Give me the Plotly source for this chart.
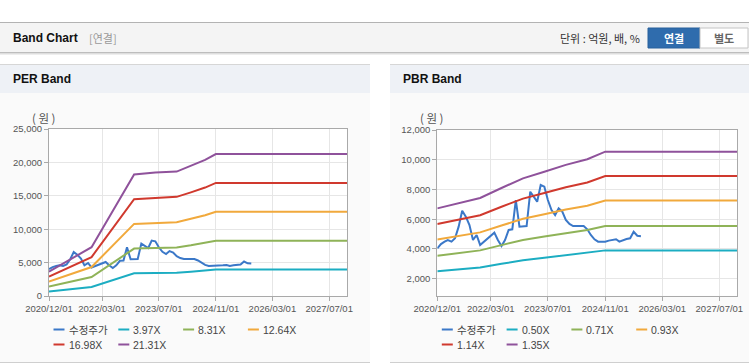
import plotly.graph_objects as go
import pandas as pd

W, H = 749, 364

# ---------------- data ----------------
price_start = "2020-12-01"
price = [4040, 4330, 4490, 4600, 4490, 4717, 5500, 6573, 6170, 5610, 4600, 4940,
         4270, 4490, 4717, 4940, 5094, 4600, 4200, 4600, 5275, 5320, 7290, 5500,
         5500, 5540, 7850, 7515, 7180, 8300, 8190, 7290, 6620, 6280, 6730, 6510,
         5950, 5680, 5540, 5540, 5544, 5540, 5320, 4940, 4650, 4490, 4490, 4490,
         4560, 4600, 4650, 4490, 4600, 4670, 4717, 5160, 4890, 4860]
price_dates = pd.date_range(price_start, periods=len(price), freq="MS")

per_band_dates = ["2020-12-01", "2021-12-01", "2022-12-01", "2023-06-01", "2023-12-01",
                  "2024-04-01", "2024-08-01", "2024-11-01", "2027-12-01"]
per_397 = [679, 1362, 3390, 3442, 3470, 3629, 3795, 3958, 3958]
per_831 = [1421, 2850, 7097, 7205, 7263, 7595, 7944, 8285, 8285]
per_1264 = [2161, 4336, 10795, 10959, 11047, 11553, 12084, 12602, 12602]
per_1698 = [2904, 5824, 14501, 14722, 14841, 15520, 16233, 16929, 16929]
per_2131 = [3644, 7309, 18199, 18476, 18625, 19477, 20372, 21246, 21246]

pbr_band_dates = ["2020-12-01", "2021-06-01", "2021-12-01", "2022-06-01", "2022-12-01",
                  "2023-06-01", "2023-12-01", "2024-06-01", "2024-11-01", "2027-12-01"]
pbr_050 = [2493, 2625, 2750, 3000, 3240, 3405, 3575, 3715, 3905, 3905]
pbr_071 = [3539, 3728, 3905, 4260, 4601, 4835, 5077, 5275, 5545, 5545]
pbr_093 = [4636, 4883, 5115, 5580, 6026, 6333, 6650, 6910, 7263, 7263]
pbr_114 = [5683, 5985, 6270, 6840, 7387, 7763, 8151, 8470, 8903, 8903]
pbr_135 = [6730, 7088, 7425, 8100, 8748, 9194, 9653, 10031, 10544, 10544]

price_name = "수정주가"
per_names = ["3.97X", "8.31X", "12.64X", "16.98X", "21.31X"]
pbr_names = ["0.50X", "0.71X", "0.93X", "1.14X", "1.35X"]

x_tickvals = ["2020-12-01", "2022-03-01", "2023-07-01", "2024-11-01", "2026-03-01", "2027-07-01"]
x_ticktext = ["2020/12/01", "2022/03/01", "2023/07/01", "2024/11/01", "2026/03/01", "2027/07/01"]
x_range = ["2020-12-01", "2027-12-01"]
per_yticks = [0, 5000, 10000, 15000, 20000, 25000]
pbr_yticks = [2000, 4000, 6000, 8000, 10000, 12000]
per_yrange = [0, 25000]
pbr_yrange = [857, 12000]

# ---------------- style ----------------
price_color = "#3b78c8"
band_colors = ["#1cadc2", "#8fb358", "#f1a93c", "#d0392e", "#8f529b"]
LATIN = "Liberation Sans, Arial, sans-serif"
KR = "Noto Sans CJK KR, sans-serif"


def X(p):
    return p / W


def Y(p):
    return 1 - p / H


fig = go.Figure()

# PER traces
fig.add_trace(go.Scatter(x=price_dates, y=price, mode="lines", name=price_name,
                         line=dict(color=price_color, width=2), xaxis="x", yaxis="y"))
for nm, vals, c in zip(per_names, [per_397, per_831, per_1264, per_1698, per_2131], band_colors):
    fig.add_trace(go.Scatter(x=per_band_dates, y=vals, mode="lines", name=nm,
                             line=dict(color=c, width=2), xaxis="x", yaxis="y"))
# PBR traces
fig.add_trace(go.Scatter(x=price_dates, y=price, mode="lines", name=price_name,
                         line=dict(color=price_color, width=2), xaxis="x2", yaxis="y2"))
for nm, vals, c in zip(pbr_names, [pbr_050, pbr_071, pbr_093, pbr_114, pbr_135], band_colors):
    fig.add_trace(go.Scatter(x=pbr_band_dates, y=vals, mode="lines", name=nm,
                             line=dict(color=c, width=2), xaxis="x2", yaxis="y2"))

per_l, per_r, per_t, per_b = 49, 347, 129, 296
pbr_l, pbr_r, pbr_t, pbr_b = 437.3, 737.3, 130, 295.7

axis_common = dict(showline=True, mirror=True, linecolor="#a9a9a9", linewidth=1,
                   showgrid=True, gridcolor="#e6e6e6", gridwidth=1, zeroline=False,
                   ticks="outside", ticklen=4, tickcolor="#a9a9a9", automargin=False,
                   tickfont=dict(family=LATIN, size=9.5, color="#555"))

fig.update_layout(
    template="none",
    width=W, height=H, margin=dict(l=0, r=0, t=0, b=0, pad=0), autosize=False,
    paper_bgcolor="white", plot_bgcolor="white", showlegend=False,
    xaxis=dict(domain=[X(per_l), X(per_r)], anchor="y", type="date", range=x_range,
               tickvals=x_tickvals, ticktext=x_ticktext, **axis_common),
    yaxis=dict(domain=[Y(per_b), Y(per_t)], anchor="x", range=per_yrange,
               tickvals=per_yticks, tickformat=",d", **axis_common),
    xaxis2=dict(domain=[X(pbr_l), X(pbr_r)], anchor="y2", type="date", range=x_range,
                tickvals=x_tickvals, ticktext=x_ticktext, **axis_common),
    yaxis2=dict(domain=[Y(pbr_b), Y(pbr_t)], anchor="x2", range=pbr_yrange,
                tickvals=pbr_yticks, tickformat=",d", **axis_common),
)

shapes = []
ann = []


def rect(x0, y0, x1, y1, fill, line=None, lw=0):
    shapes.append(dict(type="rect", xref="paper", yref="paper", x0=X(x0), x1=X(x1),
                       y0=Y(y1), y1=Y(y0), fillcolor=fill,
                       line=dict(color=line or fill, width=lw), layer="below"))


def hline(x0, x1, y, color, w=1):
    shapes.append(dict(type="line", xref="paper", yref="paper", x0=X(x0), x1=X(x1),
                       y0=Y(y), y1=Y(y), line=dict(color=color, width=w), layer="below"))


def text(x, y, s, size, color, family, xanchor="left"):
    ann.append(dict(xref="paper", yref="paper", x=X(x), y=Y(y), text=s, showarrow=False,
                    xanchor=xanchor, yanchor="middle",
                    font=dict(size=size, color=color, family=family)))


# top bar
rect(0, 22, W, 52, "#f4f4f4")
hline(0, W, 22.5, "#b3b3b3")
hline(0, W, 52.5, "#bdbdbd")
hline(0, W, 53.5, "#dedede")
hline(0, W, 54.5, "#eeeeee")
text(11, 38, "<b>Band Chart</b>", 12, "#111", LATIN)
text(87, 38, "[연결]", 11, "#999", KR)
text(642, 38, "단위 : 억원, 배, %", 11, "#333", KR, xanchor="right")
rect(648, 28, 700, 48, "#2f6cad", "#28609c", 1)
rect(700, 28, 748, 48, "#ffffff", "#c4c4c4", 1)
text(674, 38, "<b>연결</b>", 11, "white", KR, xanchor="center")
text(724, 38, "<b>별도</b>", 11, "#666", KR, xanchor="center")

# panels
for pl, pr, title in [(0, 370, "PER Band"), (390, W, "PBR Band")]:
    rect(pl, 93, pr, 363, "#fafafa")
    rect(pl, 65, pr, 93, "#eef1f6")
    hline(pl, pr, 64.5, "#d6d6d6")
    hline(pl, pr, 362.5, "#cfcfcf")
    text(pl + 11, 79, "<b>" + title + "</b>", 12, "#111", LATIN)

# white plot areas
for xr, yr in [("x domain", "y domain"), ("x2 domain", "y2 domain")]:
    shapes.append(dict(type="rect", xref=xr, yref=yr, x0=0, x1=1, y0=0, y1=1,
                       fillcolor="white", line=dict(width=0), layer="below"))

# unit labels
text(per_l - 5, 118, "( 원 )", 11.5, "#555", KR, xanchor="center")
text(pbr_l - 5, 118, "( 원 )", 11.5, "#555", KR, xanchor="center")

# custom legends
step = 64.8
for left, names in [(per_l, per_names), (pbr_l, pbr_names)]:
    items = [(price_name, price_color)] + list(zip(names, band_colors))
    for i, (nm, c) in enumerate(items):
        row, col = divmod(i, 4)
        lx = left + 4.5 + col * step
        ly = 329.5 + row * 15
        shapes.append(dict(type="line", xref="paper", yref="paper", x0=X(lx), x1=X(lx + 11),
                           y0=Y(ly), y1=Y(ly), line=dict(color=c, width=2)))
        text(lx + 13, ly, nm, 10.5, "#444", KR if nm == price_name else LATIN)

fig.update_layout(shapes=shapes, annotations=ann)
fig.write_html("out.html", config={"displayModeBar": False},
               post_script="document.body.style.margin='0';document.body.style.overflow='hidden';")
